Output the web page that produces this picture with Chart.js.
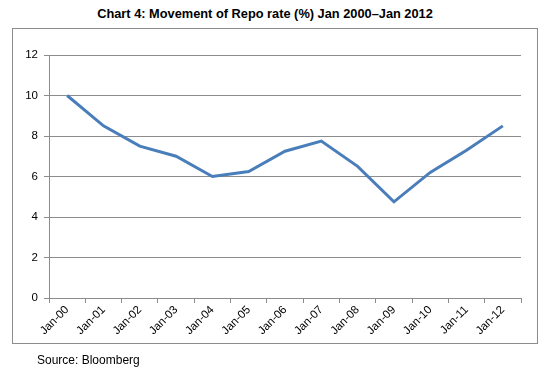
<!doctype html>
<html lang="en">
<head>
<meta charset="utf-8">
<title>Repo rate chart</title>
<script src="https://cdn.jsdelivr.net/npm/chart.js"></script>
<style>
  body { margin: 0; background: #fff; font-family: "Liberation Sans", Arial, sans-serif; }
  #wrap { position: relative; width: 543px; height: 371px; }
  #title { position: absolute; left: 0; width: 530px; top: 6px; text-align: center; font-weight: bold; font-size: 12.8px; color: #000; }
  #box { position: absolute; left: 12px; top: 28px; width: 524px; height: 314px; border: 1px solid #8c8c8c; }
  #chart { position: absolute; left: 0; top: 0; }
  #source { position: absolute; left: 37px; top: 353px; font-size: 12px; color: #000; }
</style>
</head>
<body>
<div id="wrap">
  <div id="title">Chart 4: Movement of Repo rate (%) Jan 2000–Jan 2012</div>
  <div id="box"></div>
  <canvas id="chart" width="543" height="371"></canvas>
  <div id="source">Source: Bloomberg</div>
</div>
<script>
// values
var months = ['Jan-00', 'Jan-01', 'Jan-02', 'Jan-03', 'Jan-04', 'Jan-05', 'Jan-06',
              'Jan-07', 'Jan-08', 'Jan-09', 'Jan-10', 'Jan-11', 'Jan-12'];
var repoRate = [10, 8.5, 7.5, 7, 6, 6.25, 7.25, 7.75, 6.5, 4.75, 6.2, 7.3, 8.5];
var yTicks = [0, 2, 4, 6, 8, 10, 12];

var gray = '#8c8c8c';

new Chart(document.getElementById('chart'), {
  type: 'line',
  data: {
    labels: months,
    datasets: [{
      label: 'Repo rate',
      data: repoRate,
      borderColor: '#4a7ebb',
      borderWidth: 3,
      pointRadius: 0,
      tension: 0,
      fill: false
    }]
  },
  options: {
    responsive: false,
    animation: false,
    layout: { padding: { left: 0, right: 22, top: 55, bottom: 0 } },
    plugins: { legend: { display: false }, tooltip: { enabled: false } },
    scales: {
      x: {
        offset: true,
        grid: { offset: true, drawOnChartArea: false, drawTicks: true, tickLength: 5, color: gray },
        border: { color: gray },
        ticks: {
          minRotation: 45, maxRotation: 45, autoSkip: false, padding: 0,
          color: '#000', font: { family: '"Liberation Sans", Arial, sans-serif', size: 11.5 }
        },
        afterFit: function (s) { s.height = 73; }
      },
      y: {
        min: 0, max: 12,
        afterBuildTicks: function (s) { s.ticks = yTicks.map(function (v) { return { value: v }; }); },
        grid: { color: gray, tickLength: 5, lineWidth: 1 },
        border: { color: gray },
        ticks: {
          padding: 6, color: '#000',
          font: { family: '"Liberation Sans", Arial, sans-serif', size: 11.5 }
        },
        afterFit: function (s) { s.width = 49; }
      }
    }
  }
});
</script>
</body>
</html>
